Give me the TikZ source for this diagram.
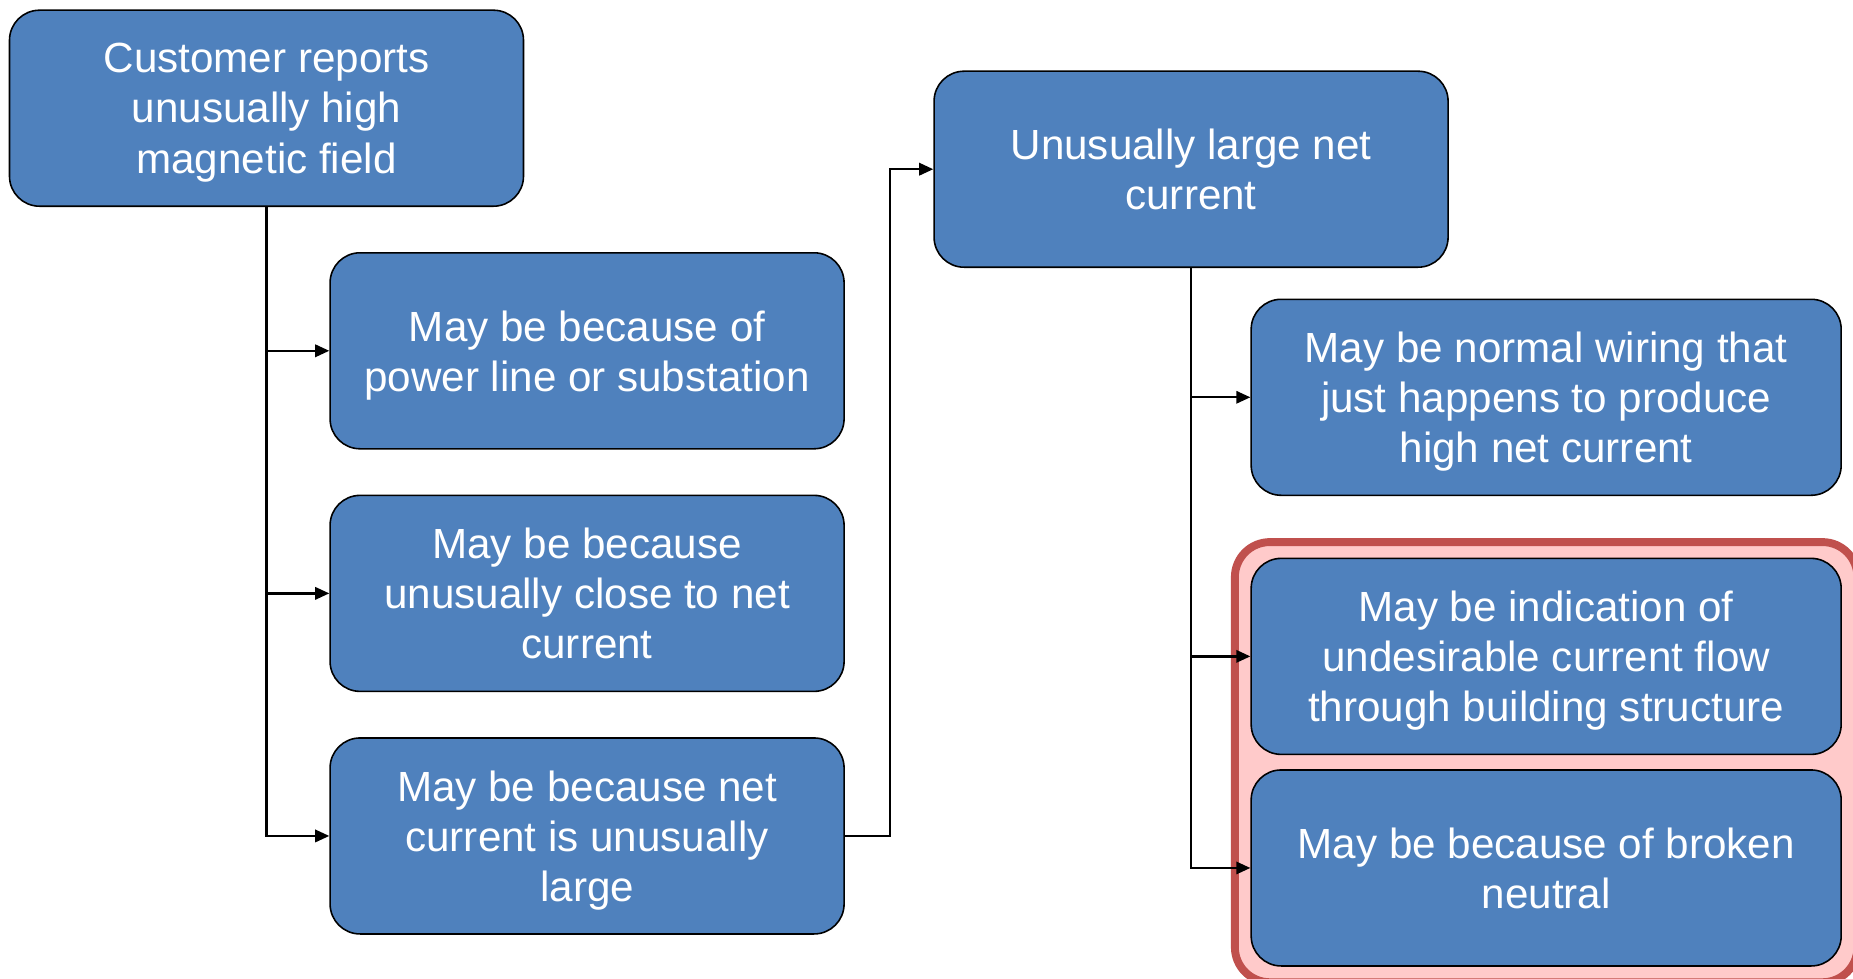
\documentclass[tikz,border=0pt]{standalone}
\usepackage{fontspec}
\setmainfont{Liberation Sans}
\usepackage{tikz}
\usetikzlibrary{positioning,arrows.meta,fit,backgrounds}
\definecolor{ink}     {HTML}{000000}
\definecolor{boxblue} {HTML}{4F81BD}
\definecolor{alertred}{HTML}{C0504D}
\definecolor{alertbg} {HTML}{FFCACA}
\tikzset{
  >={Triangle[length=8pt,width=7pt]},
  % --- nodes
  box/.style   = {rounded corners=0.6cm, draw=ink, fill=boxblue, text=white,
                  align=center, line width=0.9pt, inner sep=2pt, text depth=0pt,
                  minimum width=10.28cm, minimum height=3.92cm,
                  font=\fontsize{24}{28.5}\selectfont},
  wbox/.style  = {box, minimum width=11.8cm},
  grp/.style   = {rounded corners=0.7cm, draw=alertred, fill=alertbg,
                  line width=4.5pt, inner sep=0.31cm},
  % --- edges
  e/.style     = {->, line width=1.3pt, draw=ink},
}
\begin{document}
\begin{tikzpicture}
  \useasboundingbox (0,0) rectangle (37.06,-19.56);

  \node[box] (cr) at (5.33,-2.164) {Customer reports\\unusually high\\magnetic field};
  \node[box, below right=0.9cm and -3.9cm of cr] (pl) {May be because of\\power line or substation};
  \node[box, below=0.9cm of pl] (uc) {May be because\\unusually close to net\\current};
  \node[box, below=0.9cm of uc] (nc) {May be because net\\current is unusually\\large};

  \node[box, right=8.18cm of cr, yshift=-1.22cm] (ln) {Unusually large net\\current};
  \node[wbox, below right=0.61cm and -3.97cm of ln] (nw) {May be normal wiring that\\just happens to produce\\high net current};
  \node[wbox, below=1.23cm of nw] (bs) {May be indication of\\undesirable current flow\\through building structure};
  \node[wbox, below=0.28cm of bs] (bn) {May be because of broken\\neutral};

  \begin{scope}[on background layer]
    \node[grp, fit=(bs)(bn)] (hl) {};
  \end{scope}

  \draw[e] (cr.south) |- (pl.west);
  \draw[e] (cr.south) |- (uc.west);
  \draw[e] (cr.south) |- (nc.west);
  \draw[e] (nc.east) -- ++(0.9cm,0) |- (ln.west);
  \draw[e] (ln.south) |- (nw.west);
  \draw[e] (ln.south) |- (bs.west);
  \draw[e] (ln.south) |- (bn.west);
\end{tikzpicture}
\end{document}
